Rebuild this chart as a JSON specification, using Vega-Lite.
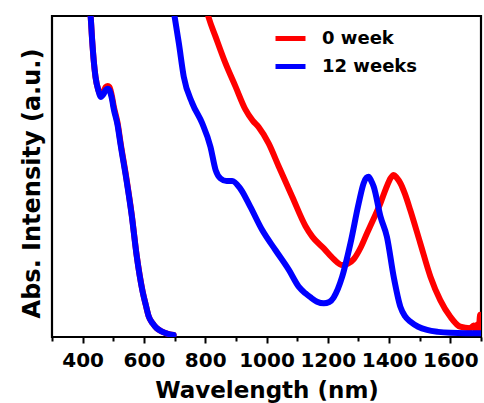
{
  "$schema": "https://vega.github.io/schema/vega-lite/v6.json",
  "autosize": "none",
  "width": 429,
  "height": 321,
  "padding": {"left": 52, "top": 16, "right": 3, "bottom": 66},
  "background": "white",
  "config": {
    "font": "DejaVu Sans",
    "view": {"stroke": "black", "strokeWidth": 2.2}
  },
  "datasets": {
    "spectra": [
      {"w": 421, "a": 103.4, "s": "0 week", "g": "vis"},
      {"w": 426, "a": 100.0, "s": "0 week", "g": "vis"},
      {"w": 431, "a": 92.5, "s": "0 week", "g": "vis"},
      {"w": 436, "a": 86.3, "s": "0 week", "g": "vis"},
      {"w": 442, "a": 81.0, "s": "0 week", "g": "vis"},
      {"w": 451, "a": 77.0, "s": "0 week", "g": "vis"},
      {"w": 460, "a": 75.2, "s": "0 week", "g": "vis"},
      {"w": 465, "a": 76.0, "s": "0 week", "g": "vis"},
      {"w": 470, "a": 76.9, "s": "0 week", "g": "vis"},
      {"w": 476, "a": 77.9, "s": "0 week", "g": "vis"},
      {"w": 482, "a": 78.2, "s": "0 week", "g": "vis"},
      {"w": 487, "a": 77.9, "s": "0 week", "g": "vis"},
      {"w": 491, "a": 76.9, "s": "0 week", "g": "vis"},
      {"w": 496, "a": 74.8, "s": "0 week", "g": "vis"},
      {"w": 501, "a": 72.1, "s": "0 week", "g": "vis"},
      {"w": 514, "a": 66.7, "s": "0 week", "g": "vis"},
      {"w": 524, "a": 60.4, "s": "0 week", "g": "vis"},
      {"w": 543, "a": 49.4, "s": "0 week", "g": "vis"},
      {"w": 560, "a": 38.3, "s": "0 week", "g": "vis"},
      {"w": 576, "a": 25.7, "s": "0 week", "g": "vis"},
      {"w": 596, "a": 14.1, "s": "0 week", "g": "vis"},
      {"w": 606, "a": 10.0, "s": "0 week", "g": "vis"},
      {"w": 615, "a": 6.6, "s": "0 week", "g": "vis"},
      {"w": 628, "a": 4.3, "s": "0 week", "g": "vis"},
      {"w": 641, "a": 2.8, "s": "0 week", "g": "vis"},
      {"w": 656, "a": 1.8, "s": "0 week", "g": "vis"},
      {"w": 671, "a": 1.2, "s": "0 week", "g": "vis"},
      {"w": 685, "a": 0.8, "s": "0 week", "g": "vis"},
      {"w": 697, "a": 0.6, "s": "0 week", "g": "vis"},

      {"w": 804, "a": 102.0, "s": "0 week", "g": "nir"},
      {"w": 812, "a": 99.3, "s": "0 week", "g": "nir"},
      {"w": 834, "a": 93.5, "s": "0 week", "g": "nir"},
      {"w": 866, "a": 85.3, "s": "0 week", "g": "nir"},
      {"w": 899, "a": 78.0, "s": "0 week", "g": "nir"},
      {"w": 931, "a": 70.9, "s": "0 week", "g": "nir"},
      {"w": 955, "a": 67.4, "s": "0 week", "g": "nir"},
      {"w": 975, "a": 65.3, "s": "0 week", "g": "nir"},
      {"w": 1007, "a": 60.3, "s": "0 week", "g": "nir"},
      {"w": 1040, "a": 53.1, "s": "0 week", "g": "nir"},
      {"w": 1084, "a": 43.7, "s": "0 week", "g": "nir"},
      {"w": 1127, "a": 34.6, "s": "0 week", "g": "nir"},
      {"w": 1150, "a": 31.2, "s": "0 week", "g": "nir"},
      {"w": 1187, "a": 27.6, "s": "0 week", "g": "nir"},
      {"w": 1219, "a": 24.3, "s": "0 week", "g": "nir"},
      {"w": 1247, "a": 22.4, "s": "0 week", "g": "nir"},
      {"w": 1265, "a": 22.8, "s": "0 week", "g": "nir"},
      {"w": 1285, "a": 24.3, "s": "0 week", "g": "nir"},
      {"w": 1307, "a": 27.8, "s": "0 week", "g": "nir"},
      {"w": 1328, "a": 32.3, "s": "0 week", "g": "nir"},
      {"w": 1350, "a": 36.9, "s": "0 week", "g": "nir"},
      {"w": 1372, "a": 41.7, "s": "0 week", "g": "nir"},
      {"w": 1390, "a": 46.3, "s": "0 week", "g": "nir"},
      {"w": 1405, "a": 49.5, "s": "0 week", "g": "nir"},
      {"w": 1415, "a": 50.5, "s": "0 week", "g": "nir"},
      {"w": 1425, "a": 49.6, "s": "0 week", "g": "nir"},
      {"w": 1437, "a": 47.9, "s": "0 week", "g": "nir"},
      {"w": 1452, "a": 44.5, "s": "0 week", "g": "nir"},
      {"w": 1469, "a": 39.6, "s": "0 week", "g": "nir"},
      {"w": 1502, "a": 29.2, "s": "0 week", "g": "nir"},
      {"w": 1535, "a": 18.8, "s": "0 week", "g": "nir"},
      {"w": 1567, "a": 11.5, "s": "0 week", "g": "nir"},
      {"w": 1600, "a": 6.3, "s": "0 week", "g": "nir"},
      {"w": 1632, "a": 3.2, "s": "0 week", "g": "nir"},
      {"w": 1665, "a": 2.7, "s": "0 week", "g": "nir"},
      {"w": 1676, "a": 3.6, "s": "0 week", "g": "nir"},
      {"w": 1682, "a": 2.4, "s": "0 week", "g": "nir"},
      {"w": 1688, "a": 3.9, "s": "0 week", "g": "nir"},
      {"w": 1693, "a": 2.3, "s": "0 week", "g": "nir"},
      {"w": 1697, "a": 6.9, "s": "0 week", "g": "nir"},
      {"w": 1701, "a": 2.8, "s": "0 week", "g": "nir"},

      {"w": 421, "a": 103.4, "s": "12 weeks", "g": "vis"},
      {"w": 426, "a": 100.0, "s": "12 weeks", "g": "vis"},
      {"w": 431, "a": 92.5, "s": "12 weeks", "g": "vis"},
      {"w": 436, "a": 86.3, "s": "12 weeks", "g": "vis"},
      {"w": 442, "a": 81.0, "s": "12 weeks", "g": "vis"},
      {"w": 451, "a": 76.9, "s": "12 weeks", "g": "vis"},
      {"w": 460, "a": 74.8, "s": "12 weeks", "g": "vis"},
      {"w": 465, "a": 75.3, "s": "12 weeks", "g": "vis"},
      {"w": 470, "a": 76.0, "s": "12 weeks", "g": "vis"},
      {"w": 476, "a": 77.0, "s": "12 weeks", "g": "vis"},
      {"w": 482, "a": 77.3, "s": "12 weeks", "g": "vis"},
      {"w": 487, "a": 77.0, "s": "12 weeks", "g": "vis"},
      {"w": 491, "a": 76.0, "s": "12 weeks", "g": "vis"},
      {"w": 496, "a": 74.0, "s": "12 weeks", "g": "vis"},
      {"w": 501, "a": 71.3, "s": "12 weeks", "g": "vis"},
      {"w": 514, "a": 66.0, "s": "12 weeks", "g": "vis"},
      {"w": 524, "a": 59.8, "s": "12 weeks", "g": "vis"},
      {"w": 543, "a": 48.9, "s": "12 weeks", "g": "vis"},
      {"w": 560, "a": 38.0, "s": "12 weeks", "g": "vis"},
      {"w": 576, "a": 25.5, "s": "12 weeks", "g": "vis"},
      {"w": 596, "a": 14.0, "s": "12 weeks", "g": "vis"},
      {"w": 606, "a": 10.0, "s": "12 weeks", "g": "vis"},
      {"w": 615, "a": 6.6, "s": "12 weeks", "g": "vis"},
      {"w": 628, "a": 4.3, "s": "12 weeks", "g": "vis"},
      {"w": 641, "a": 2.8, "s": "12 weeks", "g": "vis"},
      {"w": 656, "a": 1.8, "s": "12 weeks", "g": "vis"},
      {"w": 671, "a": 1.2, "s": "12 weeks", "g": "vis"},
      {"w": 685, "a": 0.8, "s": "12 weeks", "g": "vis"},
      {"w": 697, "a": 0.6, "s": "12 weeks", "g": "vis"},

      {"w": 696, "a": 102.2, "s": "12 weeks", "g": "nir"},
      {"w": 701, "a": 99.3, "s": "12 weeks", "g": "nir"},
      {"w": 714, "a": 91.5, "s": "12 weeks", "g": "nir"},
      {"w": 730, "a": 81.1, "s": "12 weeks", "g": "nir"},
      {"w": 758, "a": 72.8, "s": "12 weeks", "g": "nir"},
      {"w": 790, "a": 66.6, "s": "12 weeks", "g": "nir"},
      {"w": 817, "a": 59.3, "s": "12 weeks", "g": "nir"},
      {"w": 834, "a": 52.0, "s": "12 weeks", "g": "nir"},
      {"w": 850, "a": 49.4, "s": "12 weeks", "g": "nir"},
      {"w": 870, "a": 48.6, "s": "12 weeks", "g": "nir"},
      {"w": 888, "a": 48.6, "s": "12 weeks", "g": "nir"},
      {"w": 914, "a": 46.3, "s": "12 weeks", "g": "nir"},
      {"w": 947, "a": 40.6, "s": "12 weeks", "g": "nir"},
      {"w": 986, "a": 33.3, "s": "12 weeks", "g": "nir"},
      {"w": 1029, "a": 27.1, "s": "12 weeks", "g": "nir"},
      {"w": 1073, "a": 20.9, "s": "12 weeks", "g": "nir"},
      {"w": 1105, "a": 15.7, "s": "12 weeks", "g": "nir"},
      {"w": 1127, "a": 13.6, "s": "12 weeks", "g": "nir"},
      {"w": 1143, "a": 12.4, "s": "12 weeks", "g": "nir"},
      {"w": 1165, "a": 11.0, "s": "12 weeks", "g": "nir"},
      {"w": 1187, "a": 10.5, "s": "12 weeks", "g": "nir"},
      {"w": 1205, "a": 10.9, "s": "12 weeks", "g": "nir"},
      {"w": 1219, "a": 12.3, "s": "12 weeks", "g": "nir"},
      {"w": 1233, "a": 15.0, "s": "12 weeks", "g": "nir"},
      {"w": 1247, "a": 18.8, "s": "12 weeks", "g": "nir"},
      {"w": 1274, "a": 29.2, "s": "12 weeks", "g": "nir"},
      {"w": 1301, "a": 41.7, "s": "12 weeks", "g": "nir"},
      {"w": 1317, "a": 47.9, "s": "12 weeks", "g": "nir"},
      {"w": 1326, "a": 49.6, "s": "12 weeks", "g": "nir"},
      {"w": 1333, "a": 49.9, "s": "12 weeks", "g": "nir"},
      {"w": 1341, "a": 48.8, "s": "12 weeks", "g": "nir"},
      {"w": 1350, "a": 46.8, "s": "12 weeks", "g": "nir"},
      {"w": 1372, "a": 37.5, "s": "12 weeks", "g": "nir"},
      {"w": 1393, "a": 31.2, "s": "12 weeks", "g": "nir"},
      {"w": 1415, "a": 18.8, "s": "12 weeks", "g": "nir"},
      {"w": 1437, "a": 9.4, "s": "12 weeks", "g": "nir"},
      {"w": 1452, "a": 6.5, "s": "12 weeks", "g": "nir"},
      {"w": 1469, "a": 4.8, "s": "12 weeks", "g": "nir"},
      {"w": 1495, "a": 3.2, "s": "12 weeks", "g": "nir"},
      {"w": 1524, "a": 2.2, "s": "12 weeks", "g": "nir"},
      {"w": 1560, "a": 1.6, "s": "12 weeks", "g": "nir"},
      {"w": 1600, "a": 1.3, "s": "12 weeks", "g": "nir"},
      {"w": 1650, "a": 1.2, "s": "12 weeks", "g": "nir"},
      {"w": 1701, "a": 1.2, "s": "12 weeks", "g": "nir"}
    ]
  },
  "data": {"name": "spectra"},
  "mark": {"type": "line", "strokeWidth": 6, "clip": true, "interpolate": "monotone", "strokeCap": "round", "strokeJoin": "round"},
  "encoding": {
    "x": {
      "field": "w",
      "type": "quantitative",
      "scale": {"domain": [300, 1700], "nice": false, "zero": false},
      "axis": {
        "title": "Wavelength (nm)",
        "titleFont": "DejaVu Sans",
        "titleFontSize": 23,
        "titleFontWeight": "bold",
        "titleColor": "black",
        "titlePadding": 9,
        "values": [300, 400, 500, 600, 700, 800, 900, 1000, 1100, 1200, 1300, 1400, 1500, 1600, 1700],
        "labelExpr": "datum.value % 200 == 0 && datum.value >= 400 && datum.value <= 1600 ? datum.label : ''",
        "format": "d",
        "labelFont": "DejaVu Sans",
        "labelFontSize": 20,
        "labelFontWeight": "bold",
        "labelColor": "black",
        "labelPadding": 7,
        "labelFlush": false,
        "labelOverlap": false,
        "domain": false,
        "grid": false,
        "tickColor": "black",
        "tickWidth": 2,
        "tickSize": {"condition": {"test": "datum.value % 200 == 0", "value": 6}, "value": 4}
      }
    },
    "y": {
      "field": "a",
      "type": "quantitative",
      "scale": {"domain": [0, 100], "nice": false},
      "axis": {
        "title": "Abs. Intensity (a.u.)",
        "titleFont": "DejaVu Sans",
        "titleFontSize": 24,
        "titleFontWeight": "bold",
        "titleColor": "black",
        "titlePadding": 8,
        "titleY": 167,
        "labels": false,
        "ticks": false,
        "domain": false,
        "grid": false
      }
    },
    "color": {
      "field": "s",
      "type": "nominal",
      "scale": {"domain": ["0 week", "12 weeks"], "range": ["#ff0000", "#0000ff"]},
      "legend": {
        "title": null,
        "orient": "none",
        "legendX": 221,
        "legendY": 5,
        "symbolType": "stroke",
        "symbolSize": 900,
        "symbolStrokeWidth": 5,
        "rowPadding": -4,
        "labelFont": "DejaVu Sans",
        "labelFontSize": 18,
        "labelFontWeight": "bold",
        "labelColor": "black",
        "labelOffset": 14,
        "padding": 0
      }
    },
    "detail": {"field": "g", "type": "nominal"}
  }
}
